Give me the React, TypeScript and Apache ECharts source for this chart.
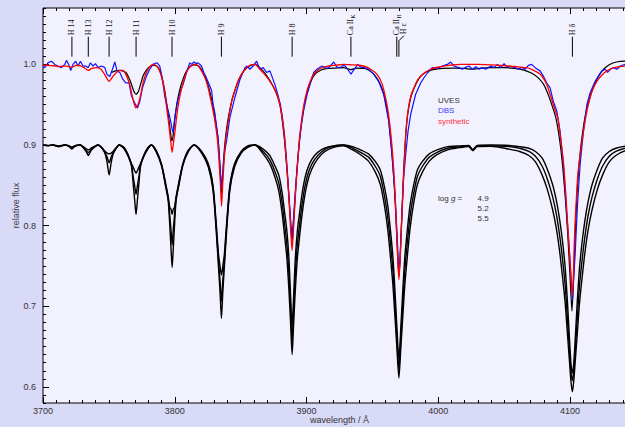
import React, { useEffect, useRef } from 'react';
import * as echarts from 'echarts';

const SANS = '"Liberation Sans", Arial, Helvetica, sans-serif';
const SERIF = '"Liberation Serif", "Times New Roman", serif';

// ---------- model grid (continuum at 0.9), three log g values ----------
const modelWave = [
  3700.0, 3703.9, 3707.5, 3711.9, 3716.5, 3719.5, 3721.9, 3724.3, 3728.2, 3731.4, 3733.1, 3734.4, 3735.7, 3737.4, 3741.8, 3745.2, 3747.2, 3748.7, 3750.2, 3751.7, 3753.2, 3755.2, 3757.7,
  3761.6, 3764.6, 3767.1, 3768.6, 3769.6, 3770.6, 3771.6, 3772.6, 3774.1, 3776.6, 3779.6, 3782.3,
  3786.0, 3790.0, 3793.0, 3795.0, 3796.2, 3797.2, 3798.0, 3798.8, 3799.8, 3801.0, 3803.0, 3806.0, 3810.0, 3814.7,
  3820.4, 3825.4, 3829.0, 3831.5, 3833.2, 3834.4, 3835.4, 3836.4, 3837.6, 3839.3, 3841.8, 3845.4, 3850.4, 3855.4, 3860.8,
  3867.05, 3872.05, 3876.05, 3879.05, 3881.55, 3883.55, 3885.05, 3886.55, 3887.85, 3889.05, 3890.25, 3891.55, 3893.05, 3894.55, 3896.55, 3899.05, 3902.05, 3906.05, 3911.05, 3917.05, 3928.0,
  3935.0, 3941.0, 3947.0, 3952.0, 3956.0, 3959.0, 3961.5, 3963.5, 3965.5, 3967.0, 3968.5, 3970.07, 3971.6, 3973.1, 3974.6, 3976.6, 3978.6, 3981.1, 3984.1, 3988.1, 3993.1, 3999.0, 4007.0, 4017.0, 4023.0, 4026.2, 4029.5, 4040.0,
  4053.7, 4061.7, 4068.7, 4073.7, 4078.7, 4082.7, 4086.7, 4089.7, 4092.2, 4094.2, 4096.2, 4098.0, 4099.5, 4100.7, 4101.7, 4102.7, 4103.9, 4105.4, 4107.2, 4109.2, 4111.2, 4113.7, 4116.7, 4120.7, 4124.7, 4129.7, 4134.7, 4141.8, 4150.0,
];
const modelLogg49 = [
  0.9, 0.899, 0.9, 0.8978, 0.9, 0.8985, 0.895, 0.8985, 0.9, 0.895, 0.891, 0.887, 0.891, 0.895, 0.9, 0.895, 0.889, 0.878, 0.863, 0.878, 0.889, 0.895, 0.9,
  0.895, 0.886, 0.874, 0.849, 0.831, 0.814, 0.831, 0.849, 0.874, 0.886, 0.895, 0.9,
  0.891, 0.874, 0.849, 0.831, 0.8, 0.77, 0.748, 0.77, 0.8, 0.831, 0.849, 0.874, 0.891, 0.9,
  0.89, 0.873, 0.844, 0.792, 0.748, 0.716, 0.685, 0.716, 0.748, 0.792, 0.844, 0.873, 0.89, 0.897, 0.9,
  0.889, 0.877, 0.86, 0.842, 0.814, 0.784, 0.76, 0.722, 0.68, 0.64, 0.68, 0.722, 0.76, 0.784, 0.813, 0.841, 0.862, 0.877, 0.888, 0.895, 0.899,
  0.894, 0.888, 0.88, 0.867, 0.851, 0.826, 0.797, 0.764, 0.727, 0.689, 0.65, 0.611, 0.65, 0.689, 0.727, 0.764, 0.797, 0.826, 0.851, 0.867, 0.88, 0.888, 0.894, 0.897, 0.898, 0.893, 0.898, 0.8985,
  0.895, 0.892, 0.887, 0.879, 0.863, 0.845, 0.82, 0.795, 0.766, 0.737, 0.705, 0.665, 0.632, 0.606, 0.594, 0.606, 0.632, 0.665, 0.705, 0.737, 0.766, 0.795, 0.82, 0.845, 0.863, 0.879, 0.887, 0.893, 0.896,
];
const modelLogg52 = [
  0.9, 0.8993, 0.9, 0.8983, 0.9, 0.8988, 0.8962, 0.8988, 0.9, 0.8955, 0.8925, 0.891, 0.8925, 0.8955, 0.9, 0.8955, 0.89, 0.885, 0.878, 0.885, 0.89, 0.8955, 0.9,
  0.896, 0.887, 0.876, 0.859, 0.849, 0.839, 0.849, 0.859, 0.876, 0.887, 0.896, 0.9,
  0.892, 0.875, 0.851, 0.834, 0.813, 0.794, 0.776, 0.794, 0.813, 0.834, 0.851, 0.875, 0.892, 0.9,
  0.891, 0.875, 0.847, 0.797, 0.756, 0.731, 0.706, 0.731, 0.756, 0.797, 0.847, 0.875, 0.891, 0.898, 0.9,
  0.892, 0.882, 0.867, 0.852, 0.827, 0.799, 0.777, 0.742, 0.7, 0.656, 0.7, 0.742, 0.777, 0.799, 0.826, 0.851, 0.869, 0.882, 0.891, 0.897, 0.9,
  0.896, 0.891, 0.885, 0.874, 0.861, 0.838, 0.812, 0.781, 0.745, 0.705, 0.662, 0.622, 0.662, 0.705, 0.745, 0.781, 0.812, 0.838, 0.861, 0.874, 0.885, 0.891, 0.896, 0.898, 0.899, 0.894, 0.899, 0.899,
  0.898, 0.896, 0.892, 0.886, 0.874, 0.858, 0.836, 0.813, 0.786, 0.759, 0.727, 0.684, 0.645, 0.618, 0.608, 0.618, 0.645, 0.684, 0.727, 0.759, 0.786, 0.813, 0.836, 0.858, 0.874, 0.886, 0.892, 0.896, 0.898,
];
const modelLogg55 = [
  0.9, 0.8996, 0.9, 0.899, 0.9, 0.8993, 0.8975, 0.8993, 0.9, 0.897, 0.895, 0.894, 0.895, 0.897, 0.9, 0.896, 0.892, 0.89, 0.889, 0.89, 0.892, 0.896, 0.9,
  0.897, 0.888, 0.877, 0.872, 0.868, 0.865, 0.868, 0.872, 0.877, 0.888, 0.897, 0.9,
  0.893, 0.876, 0.853, 0.836, 0.823, 0.82, 0.814, 0.82, 0.823, 0.836, 0.853, 0.876, 0.893, 0.9,
  0.892, 0.877, 0.85, 0.802, 0.764, 0.749, 0.739, 0.749, 0.764, 0.802, 0.85, 0.877, 0.892, 0.899, 0.9,
  0.895, 0.887, 0.874, 0.862, 0.84, 0.814, 0.794, 0.762, 0.715, 0.675, 0.715, 0.762, 0.794, 0.814, 0.839, 0.861, 0.876, 0.887, 0.894, 0.898, 0.9,
  0.898, 0.894, 0.889, 0.88, 0.869, 0.849, 0.826, 0.797, 0.762, 0.722, 0.676, 0.634, 0.676, 0.722, 0.762, 0.797, 0.826, 0.849, 0.869, 0.88, 0.889, 0.894, 0.898, 0.899, 0.8995, 0.8945, 0.8995, 0.9,
  0.8995, 0.898, 0.896, 0.892, 0.884, 0.87, 0.851, 0.83, 0.806, 0.781, 0.749, 0.705, 0.66, 0.628, 0.617, 0.628, 0.66, 0.705, 0.749, 0.781, 0.806, 0.83, 0.851, 0.87, 0.884, 0.892, 0.896, 0.8985, 0.8995,
];

// ---------- observed spectra and fit (continuum at 1.0) ----------
const uves: [number, number][] = [
  [3752, .990], [3755, .992], [3758, .9925], [3761, .9915], [3763, .990], [3765, .984], [3767, .976], [3768.6, .968], [3770.6, .963], [3772.3, .966], [3774, .975], [3776, .986], [3778.5, .993], [3781, .997], [3783.5, .999], [3786, .998], [3788.5, .993], [3790.5, .983], [3792.5, .966], [3794, .950], [3795.5, .932], [3796.8, .915], [3797.8, .905], [3798.6, .910], [3799.6, .925], [3801, .945], [3802.6, .960], [3804.5, .973], [3806.5, .983], [3809, .992], [3812, .998], [3815.2, .9995], [3818, .998], [3820.5, .993], [3823, .985], [3825.5, .973], [3827.5, .960], [3829.5, .945], [3831, .930], [3832.5, .912], [3833.7, .890], [3834.7, .862], [3835.5, .840], [3836.4, .862], [3837.4, .890], [3838.7, .912], [3840.2, .930], [3841.8, .944], [3843.7, .958], [3846, .970], [3848.5, .981], [3851.5, .990], [3855, .996], [3858, .999], [3861, 1.0], [3864.5, .996], [3868.5, .989], [3872.2, .980], [3875.5, .970], [3878, .960], [3880, .948], [3881.6, .930], [3883.2, .907], [3884.6, .880], [3885.9, .853], [3887.2, .822], [3888.3, .795], [3889.1, .781], [3889.9, .798], [3891, .826], [3892.2, .857], [3893.4, .884], [3894.8, .909], [3896.4, .930], [3898.3, .949], [3900.5, .966], [3903, .978], [3906, .987], [3911, .993], [3916, .995], [3922, .9955], [3928, .996], [3933.7, .9935], [3938, .9955], [3944, .995], [3948, .992], [3952, .986], [3956, .975], [3959.5, .958], [3962, .935], [3964, .905], [3965.5, .875], [3966.8, .843], [3967.8, .810], [3968.8, .775], [3969.6, .748], [3970.1, .737], [3970.8, .755], [3971.7, .790], [3972.6, .825], [3973.6, .865], [3974.8, .902], [3976, .928], [3977.5, .946], [3979.3, .960], [3981.5, .970], [3984, .979], [3987, .986], [3991, .991], [3996, .9935], [4003, .995], [4012, .9955], [4020, .995], [4026, .994], [4032, .9955], [4040, .996], [4050, .996], [4058, .995], [4065, .993], [4071, .989], [4076, .983], [4080, .975], [4083.5, .962], [4086.5, .948], [4089, .935], [4091, .918], [4092.8, .897], [4094.3, .874], [4095.6, .850], [4096.8, .824], [4098, .795], [4099.2, .760], [4100.3, .725], [4101.4, .694], [4102.3, .722], [4103.2, .760], [4104.1, .798], [4105.1, .835], [4106.3, .866], [4107.8, .893], [4109.6, .917], [4111.6, .937], [4113.8, .952], [4116.3, .966], [4119.2, .978], [4122.5, .988], [4126, .995], [4130, 1.0], [4135, 1.003], [4141.8, 1.004], [4150, 1.004],
];

const dbs: [number, number][] = [
  [3700, .997], [3701.3, .996], [3703.8, 1.002], [3706.4, 1.004], [3708.9, 1.0], [3711.4, .998], [3714, .996], [3716.5, 1.0], [3717.8, 1.005], [3719.5, 1.0], [3721, .9925], [3722.8, 1.0], [3724.8, 1.004], [3726.6, .998], [3728.4, 1.004], [3730.4, .998], [3732.4, .998], [3734.2, .996], [3736, 1.002], [3738, .998], [3739.8, 1.001], [3741.8, .996], [3744.4, .998], [3746.9, .996], [3748.6, .9876], [3750.7, .985], [3752.7, .994], [3754.5, 1.003], [3756.2, .992], [3758.3, .990], [3760.8, .981], [3762.8, .977], [3765.3, .977], [3767.1, .961], [3769.6, .952], [3771.7, .946], [3773.4, .954], [3775.5, .971], [3778.5, .9855], [3781, .994], [3783.5, 1.0], [3786.6, 1.002], [3788.6, .998], [3789.9, .9876], [3791.2, .975], [3792.4, .960], [3794.2, .948], [3796.2, .935], [3798, .920], [3798.8, .915], [3800, .935], [3802.5, .957], [3805.1, .971], [3806.3, .975], [3808.9, .990], [3811.4, 1.002], [3812.7, 1.0], [3814.5, 1.003], [3816.5, 1.001], [3817.7, 1.002], [3820.3, .998], [3822, .990], [3824.1, .983], [3826.1, .975], [3827.9, .968], [3829.1, .950], [3830.4, .940], [3831.5, .925], [3832.9, .909], [3834, .880], [3835.5, .847], [3836.8, .875], [3838, .893], [3839.3, .905], [3841.8, .934], [3845.6, .959], [3849.4, .981], [3853.2, .996], [3854.9, .998], [3857, .994], [3859.5, .998], [3862.1, 1.004], [3864.6, .994], [3867.1, .996], [3869.7, .990], [3872.2, .992], [3876, .975], [3878.3, .962], [3880.2, .950], [3881.8, .933], [3883.3, .912], [3884.6, .886], [3885.8, .858], [3887, .828], [3888.1, .800], [3889, .787], [3889.9, .805], [3891, .832], [3892.2, .858], [3893.4, .882], [3894.7, .905], [3896.2, .926], [3898, .945], [3900.3, .962], [3902.8, .976], [3905.4, .990], [3907.9, .994], [3911.7, .998], [3915.5, .995], [3918, .998], [3920.6, 1.003], [3923, .9966], [3925.6, .996], [3927.6, .9988], [3929.4, .998], [3931.2, .994], [3933.7, .988], [3936.2, .994], [3938.8, 1.0], [3941.3, .9966], [3943.8, .996], [3947.1, .994], [3950.9, .988], [3954.7, .979], [3958.5, .963], [3962.3, .930], [3964.8, .888], [3967.1, .839], [3968.7, .790], [3969.7, .752], [3970.3, .740], [3971.2, .765], [3972.3, .810], [3973.5, .855], [3975.2, .888], [3977, .917], [3979, .938], [3982.8, .963], [3986.6, .977], [3989.1, .9835], [3992, .990], [3995.4, .996], [3999.2, .995], [4003, .998], [4006.8, 1.0], [4009.4, 1.003], [4011.9, .998], [4015.7, .996], [4018.2, .994], [4020.8, .9966], [4023.3, .998], [4025.8, .994], [4028.4, .997], [4030.9, .994], [4033.4, .996], [4036, .994], [4039.8, .998], [4042.3, .996], [4044.8, 1.0], [4047.4, .996], [4049.9, 1.001], [4052, .997], [4054.3, .998], [4058.1, .996], [4060.7, .994], [4063.3, .9966], [4065.8, .994], [4068.3, .9988], [4070.9, 1.0], [4073.4, .996], [4077.2, .992], [4079.7, .9855], [4082.3, .977], [4084.8, .971], [4087.3, .954], [4089.9, .942], [4092.4, .917], [4094.9, .876], [4097.5, .814], [4100, .756], [4101.8, .708], [4103.8, .764], [4105.6, .826], [4107.6, .876], [4110.1, .917], [4112.7, .950], [4115.2, .965], [4119, .979], [4121.5, .9855], [4124.1, .992], [4126.6, .994], [4128.4, .990], [4130.4, .994], [4133, .996], [4135.5, .994], [4138, .998], [4141.8, 1.0], [4146, .999],
];

const synthetic: [number, number][] = [
  [3700, .999], [3702.6, .999], [3706, .9985], [3710.2, .998], [3712, .997], [3714, .998], [3717.8, .998], [3721.9, .9965], [3725.4, .999], [3729, .998], [3732, .995], [3734.3, .9925], [3737, .995], [3740.6, .996], [3744, .994], [3747, .987], [3750.1, .979], [3753, .985], [3755.7, .990], [3758.5, .9925], [3760.8, .9925], [3763, .987], [3764.6, .981], [3766, .974], [3767.1, .965], [3768.6, .955], [3770.4, .946], [3771.8, .949], [3773.4, .957], [3774.7, .967], [3775.9, .977], [3777.7, .987], [3779.7, .994], [3781.5, .998], [3783.5, 1.0], [3785.4, .999], [3787.3, .996], [3789.3, .988], [3791.1, .977], [3792.5, .964], [3793.7, .948], [3795, .932], [3796.2, .915], [3797.2, .900], [3798, .891], [3798.8, .900], [3800, .915], [3801.2, .932], [3802.5, .948], [3804.3, .964], [3806.3, .977], [3808.2, .987], [3810.1, .994], [3812.5, .998], [3815.2, 1.0], [3817.8, .998], [3820.3, .992], [3823, .983], [3825.3, .971], [3827.2, .957], [3829.1, .942], [3830.8, .926], [3832.2, .909], [3833.4, .885], [3834.5, .855], [3835.5, .824], [3836.5, .855], [3837.6, .885], [3838.8, .909], [3840.3, .926], [3841.8, .942], [3843.6, .957], [3845.6, .967], [3848, .979], [3850.7, .988], [3854, .995], [3857, .999], [3860.8, 1.0], [3864.6, .994], [3868.5, .987], [3872.2, .979], [3875.5, .970], [3878.3, .959], [3880.2, .947], [3881.8, .930], [3883.3, .909], [3884.6, .882], [3885.8, .855], [3887, .823], [3888.1, .790], [3889, .769], [3889.9, .790], [3891, .823], [3892.2, .855], [3893.4, .882], [3894.7, .909], [3896.2, .930], [3898, .950], [3900.3, .967], [3902.8, .979], [3905.4, .988], [3910.4, .995], [3916, .998], [3922, .999], [3928.1, 1.0], [3934, .9995], [3940, .999], [3945.8, .9966], [3949.5, .993], [3953.4, .988], [3957.5, .975], [3961, .950], [3963.2, .925], [3965, .895], [3966.3, .866], [3967.3, .835], [3968.4, .790], [3969.3, .755], [3970.1, .733], [3970.9, .755], [3971.8, .790], [3972.7, .826], [3973.9, .870], [3975.2, .909], [3976.4, .934], [3977.7, .950], [3979.5, .963], [3981.5, .971], [3984, .980], [3986.6, .9855], [3990, .990], [3994.2, .994], [3999, .9965], [4004.3, .998], [4010, .9993], [4017, 1.0], [4030, 1.0], [4045, .999], [4054.3, .998], [4060, .997], [4067.1, .996], [4072, .993], [4077.2, .988], [4080, .982], [4082.3, .975], [4084.8, .963], [4087.3, .950], [4088.8, .942], [4090.2, .936], [4091.1, .930], [4092.5, .912], [4093.8, .895], [4094.9, .880], [4096.3, .850], [4097.2, .827], [4098, .805], [4099.4, .770], [4100.5, .738], [4101.5, .714], [4102.5, .738], [4103, .770], [4103.8, .805], [4104.8, .835], [4105.8, .862], [4107.6, .888], [4109.5, .910], [4111.4, .930], [4112.5, .940], [4113.5, .948], [4115.2, .959], [4117.5, .970], [4120.3, .979], [4124, .9865], [4127.9, .992], [4132, .995], [4136, .997], [4141.8, .998], [4150, .999],
];

// ---------- line identifications ----------
const lineWaves = [3721.94, 3734.37, 3750.15, 3770.63, 3797.90, 3835.39, 3889.05, 3933.66, 3968.47, 3970.07, 4101.74];
const lineNames = ['H 14', 'H 13', 'H 12', 'H 11', 'H 10', 'H 9', 'H 8', 'Ca II', 'Ca II', 'H ε', 'H δ'];
const lineSubs = ['', '', '', '', '', '', '', 'K', 'H', '', ''];

const xMajorTicks = [3700, 3800, 3900, 4000, 4100];
const yMajorTicks = [0.6, 0.7, 0.8, 0.9, 1.0];
const legendNames = ['UVES', 'DBS', 'synthetic'];
const legendColors = ['#333333', '#3a3aff', '#ff3040'];
const loggValues = ['4.9', '5.2', '5.5'];

const X_MIN = 3700, X_MAX = 4150, Y_MIN = 0.58, Y_MAX = 1.07;
const LINE_BASE = 1.0096;

function textWidth(text: string, font: string): number {
  const c = document.createElement('canvas').getContext('2d');
  if (!c) return text.length * 4;
  c.font = font;
  return c.measureText(text).width;
}

export default function App() {
  const ref = useRef<HTMLDivElement>(null);
  useEffect(() => {
    if (!ref.current) return;
    const chart = echarts.init(ref.current, undefined, { renderer: 'svg' });

    const xMinor: number[] = [];
    for (let v = X_MIN; v <= X_MAX; v += 10) xMinor.push(v);
    const yMinor: number[] = [];
    for (let k = Math.round(Y_MIN * 100); k <= Math.round(Y_MAX * 100); k++) yMinor.push(k / 100);

    const modelSets = [modelLogg49, modelLogg52, modelLogg55];
    const modelSeries = modelSets.map((arr, k) => ({
      name: 'logg ' + loggValues[k],
      type: 'line',
      data: modelWave.map((w, i) => [w, arr[i]]),
      showSymbol: false,
      smooth: 0.25,
      lineStyle: { color: '#000', width: 1.4 },
      z: 2,
    }));

    const LABEL_FONT_SIZE = 8;
    const mainFont = `${LABEL_FONT_SIZE}px ${SERIF}`;

    const baseAxis = {
      type: 'value',
      min: X_MIN,
      max: X_MAX,
      axisLine: { show: false },
      splitLine: { show: false },
    };

    const option: any = {
      animation: false,
      backgroundColor: '#d9d9f8',
      grid: {
        left: 43, right: -11, top: 8, bottom: 24,
        outerBoundsMode: 'none', containLabel: false,
        show: true, backgroundColor: '#f2f2fe', borderColor: '#000', borderWidth: 1,
      },
      xAxis: [
        {
          ...baseAxis, position: 'bottom',
          axisTick: { show: true, inside: true, length: 6, customValues: xMajorTicks, lineStyle: { color: '#000' } },
          axisLabel: {
            show: true, customValues: xMajorTicks, margin: 3, fontSize: 9, fontFamily: SANS, color: '#333',
            formatter: (v: number) => String(Math.round(v)),
          },
          name: 'wavelength / Å', nameLocation: 'middle', nameGap: 12, nameMoveOverlap: false,
          nameTextStyle: { fontSize: 9, fontFamily: SANS, color: '#333' },
        },
        {
          ...baseAxis, position: 'bottom',
          axisTick: { show: true, inside: true, length: 3, customValues: xMinor, lineStyle: { color: '#000' } },
          axisLabel: { show: false },
        },
        {
          ...baseAxis, position: 'top',
          axisTick: { show: true, inside: true, length: 6, customValues: xMajorTicks, lineStyle: { color: '#000' } },
          axisLabel: { show: false },
        },
        {
          ...baseAxis, position: 'top',
          axisTick: { show: true, inside: true, length: 3, customValues: xMinor, lineStyle: { color: '#000' } },
          axisLabel: { show: false },
        },
      ],
      yAxis: [
        {
          type: 'value', min: Y_MIN, max: Y_MAX, position: 'left',
          axisLine: { show: false }, splitLine: { show: false },
          axisTick: { show: true, inside: true, length: 6, customValues: yMajorTicks, lineStyle: { color: '#000' } },
          axisLabel: {
            show: true, customValues: yMajorTicks, margin: 7, fontSize: 9, fontFamily: SANS, color: '#333',
            formatter: (v: number) => v.toFixed(1),
          },
          name: 'relative flux', nameLocation: 'middle', nameGap: 23, nameRotate: 90, nameMoveOverlap: false,
          nameTextStyle: { fontSize: 9, fontFamily: SANS, color: '#444' },
        },
        {
          type: 'value', min: Y_MIN, max: Y_MAX, position: 'left',
          axisLine: { show: false }, splitLine: { show: false },
          axisTick: { show: true, inside: true, length: 3, customValues: yMinor, lineStyle: { color: '#000' } },
          axisLabel: { show: false },
        },
      ],
      series: [
        ...modelSeries,
        {
          name: 'UVES', type: 'line', data: uves, showSymbol: false, smooth: 0.2,
          lineStyle: { color: '#000', width: 1.2 }, z: 3,
        },
        {
          name: 'DBS', type: 'line', data: dbs, showSymbol: false,
          lineStyle: { color: '#1010ff', width: 1.2 }, z: 4,
        },
        {
          name: 'synthetic', type: 'line', data: synthetic, showSymbol: false, smooth: 0.2,
          lineStyle: { color: '#ff0000', width: 1.3 }, z: 5,
        },
        {
          name: 'lines', type: 'custom', silent: true, clip: false, z: 6,
          data: lineWaves.map((w, i) => [w, LINE_BASE, i]),
          encode: { x: 0, y: 1 },
          renderItem: (params: any, api: any) => {
            const w = api.value(0) as number;
            const idx = api.value(2) as number;
            const p = api.coord([w, LINE_BASE]);
            const x = p[0];
            const yb = p[1];
            const name = lineNames[idx];
            const sub = lineSubs[idx];
            const children: any[] = [];
            let tx = x;
            let yTop = yb - 20;
            if (name === 'H ε') {
              tx = x + 5;
              children.push({
                type: 'polyline',
                shape: { points: [[x, yb], [x, yb - 16], [tx, yb - 21]] },
                style: { stroke: '#000', lineWidth: 1, fill: null },
              });
              yTop = yb - 21;
            } else {
              children.push({
                type: 'line',
                shape: { x1: x, y1: yb, x2: x, y2: yTop },
                style: { stroke: '#000', lineWidth: 1 },
              });
            }
            const labelChildren: any[] = [
              {
                type: 'text', x: 0, y: 0,
                style: { text: name, fontSize: LABEL_FONT_SIZE, fontFamily: SERIF, fill: '#111', align: 'left', verticalAlign: 'middle' },
              },
            ];
            if (sub) {
              labelChildren.push({
                type: 'text', x: textWidth(name, mainFont) + 0.5, y: 2.5,
                style: { text: sub, fontSize: 5.5, fontFamily: SERIF, fill: '#111', align: 'left', verticalAlign: 'middle' },
              });
            }
            children.push({ type: 'group', x: tx, y: yTop - 1.5, rotation: Math.PI / 2, children: labelChildren });
            return { type: 'group', children };
          },
        },
      ],
      graphic: [
        ...legendNames.map((n, i) => ({
          type: 'text', x: 438, y: 100 + i * 10.5,
          style: { text: n, fontSize: 8, fontFamily: SANS, fill: legendColors[i], verticalAlign: 'middle' },
        })),
        {
          type: 'text', x: 438, y: 198,
          style: {
            text: '{a|log }{b|g}{a| =}', verticalAlign: 'middle',
            rich: {
              a: { fontSize: 8, fontFamily: SANS, fill: '#333' },
              b: { fontSize: 8, fontFamily: SANS, fontStyle: 'italic', fill: '#333' },
            },
          },
        },
        ...loggValues.map((v, i) => ({
          type: 'text', x: 477.5, y: 198 + i * 10.3,
          style: { text: v, fontSize: 8, fontFamily: SANS, fill: '#333', verticalAlign: 'middle' },
        })),
      ],
    };

    chart.setOption(option);
    return () => chart.dispose();
  }, []);

  return <div ref={ref} style={{ position: 'fixed', left: 0, top: 0, width: 625, height: 427 }} />;
}
